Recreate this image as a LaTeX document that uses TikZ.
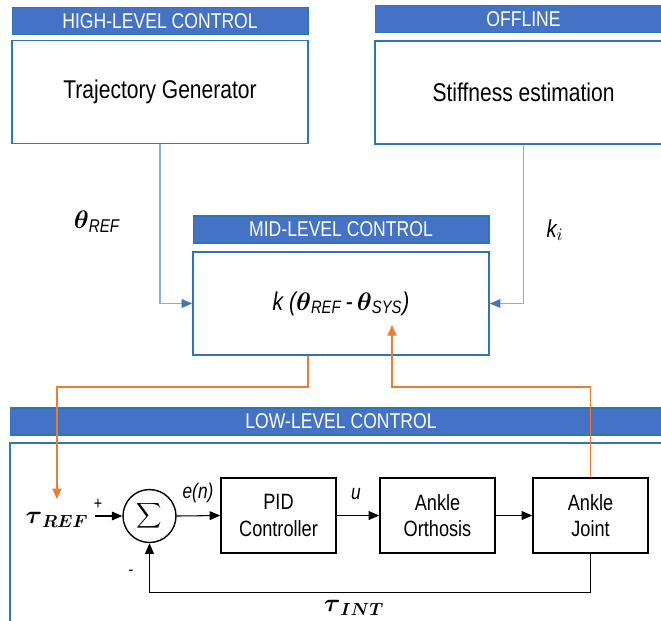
\documentclass[tikz,border=0pt]{standalone}
\usepackage{fontspec}
\setmainfont{Liberation Sans}[FakeStretch=0.82]
\usepackage{amsmath}
\usetikzlibrary{arrows.meta}

\definecolor{bannerblue}{HTML}{4472C4}
\definecolor{edgeblue}{HTML}{2E75B6}
\definecolor{lineblue}{HTML}{8FAADC}
\definecolor{linkorange}{HTML}{ED7D31}

\tikzset{
  banner/.style={draw=edgeblue, line width=0.6pt, fill=bannerblue, text=white,
    font=\fontsize{12.2}{14}\selectfont, minimum height=0.54cm, inner sep=0pt},
  layerbox/.style={draw=edgeblue, line width=1pt, fill=white,
    font=\fontsize{14.6}{17}\selectfont, minimum height=2.06cm, inner sep=0pt},
  sysbox/.style={draw, line width=0.9pt, minimum width=2.3cm, minimum height=1.5cm,
    align=center, font=\fontsize{12.6}{15}\selectfont},
  sumnode/.style={draw, circle, line width=0.8pt, minimum size=1.06cm, inner sep=0pt},
  sig/.style={-{Triangle[length=6pt,width=5pt]}, line width=0.6pt},
  feed/.style={-{Triangle[length=6pt,width=5pt,color=bannerblue]}, draw=lineblue, line width=0.7pt},
  link/.style={-{Triangle[length=6pt,width=5pt]}, draw=linkorange, line width=1pt},
}

\begin{document}
\begin{tikzpicture}[x=0.02cm,y=-0.02cm]
  \useasboundingbox (0,0) rectangle (661,620);
  \clip (0,0) rectangle (661,620);

  % upper layers
  \node[banner, minimum width=5.92cm] (hlb) at (160,21) {HIGH-LEVEL CONTROL};
  \node[layerbox, minimum width=5.92cm] (tg) at (160,92) {Trajectory Generator};
  \node[banner, minimum width=5.94cm] (offb) at (523.5,19) {OFFLINE};
  \node[layerbox, minimum width=5.94cm] (se) at (523.5,92.5) {Stiffness estimation};

  \node[banner, minimum width=5.92cm] (mlb) at (341,229.5) {MID-LEVEL CONTROL};
  \node[layerbox, minimum width=5.92cm] (ml) at (341,303.5)
    {\itshape k ($\boldsymbol{\theta}_{\textit{REF}}$\,-\,$\boldsymbol{\theta}_{\textit{SYS}}$)};

  \draw[feed] (tg.south) |- (ml.west);
  \draw[feed] (se.south) |- (ml.east);
  \node[font=\fontsize{15}{17}\selectfont] (thref) at (97,222) {$\boldsymbol{\theta}_{\textit{REF}}$};
  \node[font=\fontsize{14}{16}\selectfont\itshape] (ki) at (555,230) {k$_{i}$};

  % low level loop
  \node[banner, minimum width=13.24cm] (llb) at (341,421.5) {LOW-LEVEL CONTROL};
  \node[layerbox, minimum width=13.24cm, minimum height=3.96cm] (ll) at (341,542) {};

  \node[font=\fontsize{14}{16}\selectfont] (tref) at (57,520) {$\boldsymbol{\tau}_{\boldsymbol{REF}}$};
  \node[sumnode] (sum) at (149.5,516) {$\displaystyle\sum$};
  \node[sysbox] (pid) at (278.5,515.5) {PID\\Controller};
  \node[sysbox] (aoth) at (437.5,515.5) {Ankle\\Orthosis};
  \node[sysbox] (ajnt) at (590.5,515.5) {Ankle\\Joint};

  \draw[sig] (tref.east |- sum.west) -- (sum.west);
  \draw[sig] (sum.east) -- (pid.west);
  \draw[sig] (pid.east) -- (aoth.west);
  \draw[sig] (aoth.east) -- (ajnt.west);
  \draw[sig] (ajnt.south) -- ++(0,39) -| (sum.south);

  \node (plus) at (98,504) {+};
  \node (minus) at (131,573) {-};
  \node[font=\fontsize{12}{14}\selectfont\itshape] (err) at (198,493) {e(n)};
  \node[font=\fontsize{12}{14}\selectfont\itshape] (uu) at (356,494) {u};
  \node[font=\fontsize{14}{16}\selectfont] (tint) at (354,608) {$\boldsymbol{\tau}_{\boldsymbol{INT}}$};

  % links between layers
  \coordinate (sysin) at (392,325);
  \draw[link] ([xshift=-0.66cm]ml.south) |- (57,387) -- ([yshift=4pt]tref.north);
  \draw[link] (ajnt.north) |- (sysin |- 0,387) -- (sysin);
\end{tikzpicture}
\end{document}
